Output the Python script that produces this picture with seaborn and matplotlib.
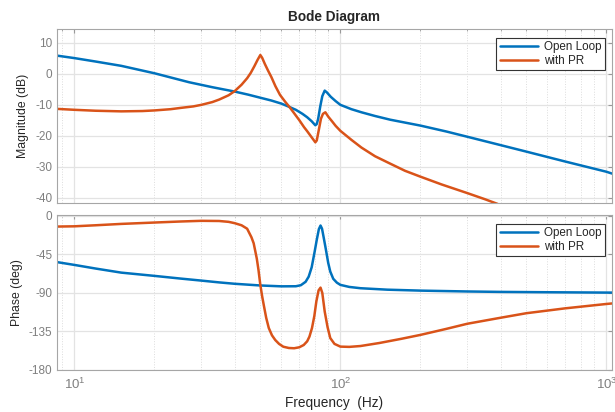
import numpy as np
import pandas as pd
import matplotlib
matplotlib.use("Agg")
import matplotlib.pyplot as plt
import seaborn as sns
from matplotlib.ticker import LogLocator, NullFormatter, FixedLocator

# --- values ---
mag_ol_f = [8.6, 10, 12, 15, 20, 27, 33, 40, 45, 50, 55, 60, 64, 68, 72, 75, 78, 80.5, 81.5,
            82.5, 84, 85.5, 87.3, 89, 92, 96, 100, 110, 120, 135, 154, 200, 250, 300, 400, 500,
            700, 1000, 1050]
mag_ol = [5.9, 5.1, 4.0, 2.6, 0.2, -2.7, -4.3, -5.7, -6.7, -7.7, -8.6, -9.6, -10.6, -11.6,
          -12.9, -14.0, -15.3, -16.6, -16.2, -14.5, -10.5, -7.2, -5.4, -6.0, -7.4, -8.8, -10.0,
          -11.4, -12.4, -13.6, -14.8, -16.7, -18.6, -20.3, -23.0, -25.1, -28.3, -31.6, -32.2]

mag_pr_f = [8.6, 10, 12, 15, 18, 20, 23, 25, 28, 30, 33, 35, 38, 40, 42.5, 44.6, 46, 47.5, 48.8,
            50, 50.8, 52, 53.5, 55, 57, 59.3, 62, 64.5, 67, 70, 73, 75, 78, 80.5, 81.5, 83, 84.5,
            86, 87.8, 90, 93, 96, 100, 110, 120, 135, 154, 175, 200, 240, 300, 350, 390]
mag_pr = [-11.3, -11.6, -11.9, -12.1, -12.0, -11.8, -11.4, -11.0, -10.5, -10.0, -9.1, -8.3,
          -6.9, -5.6, -3.5, -1.4, 0.3, 2.5, 4.5, 6.1, 5.2, 3.2, 1.0, -1.0, -4.0, -6.8, -9.0,
          -10.8, -12.7, -14.9, -17.2, -18.5, -20.5, -22.1, -21.5, -18.0, -14.5, -12.9, -12.4,
          -13.8, -15.3, -16.8, -18.4, -21.3, -23.8, -26.6, -29.0, -31.3, -33.2, -35.7, -38.5,
          -40.5, -42.0]

ph_ol_f = [8.6, 10, 12, 15, 20, 25, 30, 35, 40, 50, 60, 68, 71, 74, 76, 78, 80, 81.5, 83, 84.2,
           85.3, 86.5, 88, 90, 91.6, 94, 97, 100, 108, 119, 150, 200, 300, 400, 600, 1000, 1050]
ph_ol = [-54, -57.3, -61.5, -66.3, -70.1, -73.2, -75.6, -77.7, -79.3, -81.3, -82.3, -82.2, -81,
         -77, -71, -60, -42, -28, -15.5, -11.3, -15, -25, -37.6, -55, -65, -73.5, -78, -80.6,
         -83, -84.5, -86.2, -87.3, -88.3, -88.8, -89.2, -89.6, -89.6]

ph_pr_f = [8.6, 10, 12, 15, 20, 25, 30, 35, 38, 40, 42.5, 44.6, 46.3, 47.2, 47.9, 48.5, 49.2, 50,
           50.8, 51.5, 52.6, 53.8, 55.3, 56.9, 58.8, 61, 64, 67, 70, 72.8, 75, 76.5, 78.2, 79.8,
           81.2, 82.8, 84.2, 85.5, 87.3, 89.5, 91.6, 95, 100, 108, 119, 140, 170, 200, 250, 300,
           400, 500, 700, 1000, 1050]
ph_pr = [-12.5, -12.2, -11, -9.4, -7.8, -6.6, -5.8, -6.0, -7.0, -8.5, -11, -15, -25, -32, -41.7,
         -50, -63, -80.6, -94, -104, -119, -131, -139.5, -145, -149.5, -152.8, -154.3, -154.6,
         -153.5, -150.8, -146.5, -141, -131, -117, -100, -87, -83.8, -90, -111.7, -130, -142.7,
         -149.5, -152.7, -153, -152, -148.5, -143.5, -139, -132, -126, -119, -113.7, -108,
         -102.9, -102.3]

labels = ["Open Loop", "with PR"]
colors = ["#0072BD", "#D95319"]

mag_df = pd.concat([
    pd.DataFrame({"f": mag_ol_f, "v": mag_ol, "sys": labels[0]}),
    pd.DataFrame({"f": mag_pr_f, "v": mag_pr, "sys": labels[1]}),
])
ph_df = pd.concat([
    pd.DataFrame({"f": ph_ol_f, "v": ph_ol, "sys": labels[0]}),
    pd.DataFrame({"f": ph_pr_f, "v": ph_pr, "sys": labels[1]}),
])

sns.set_style("white")
plt.rcParams['font.family'] = ['Liberation Sans', 'DejaVu Sans']
plt.rcParams['axes.unicode_minus'] = False

fig = plt.figure(figsize=(6.15, 4.12), dpi=100)
W, H = 615, 412
ax_left, ax_right = 57, 612
ax_mag = fig.add_axes([ax_left / W, 1 - 203 / H, (ax_right - ax_left) / W, (203 - 29) / H])
ax_ph = fig.add_axes([ax_left / W, 1 - 370 / H, (ax_right - ax_left) / W, (370 - 215) / H])

tick_grey = "#7f7f7f"
for ax, df, yl in [(ax_mag, mag_df, "Magnitude (dB)"), (ax_ph, ph_df, "Phase (deg)")]:
    sns.lineplot(data=df, x="f", y="v", hue="sys", hue_order=labels, palette=colors,
                 estimator=None, sort=False, linewidth=1.8, ax=ax)
    ax.set_xscale("log")
    ax.set_xlim(8.6, 1050)
    ax.xaxis.set_minor_locator(LogLocator(base=10, subs=np.arange(2, 10), numticks=20))
    ax.xaxis.set_minor_formatter(NullFormatter())
    ax.grid(True, which="major", color="#e3e3e3", linewidth=0.9)
    ax.grid(True, which="minor", axis="x", color="#dcdcdc", linestyle=":", linewidth=0.7)
    ax.tick_params(which="both", direction="in", top=True, right=True, colors="#999999",
                   labelcolor=tick_grey, labelsize=8.5, length=3)
    ax.tick_params(which="minor", length=1.5)
    for s in ax.spines.values():
        s.set_color("#a6a6a6")
        s.set_linewidth(0.8)
    ax.set_ylabel(yl, fontsize=8.8, color="#262626", labelpad=4)
    ax.set_xlabel("")
    ax.legend(loc="upper right", bbox_to_anchor=(1 - 7 / 555, 1 - 8.5 / ax.bbox.height),
              borderaxespad=0, fontsize=8.4, frameon=True, fancybox=False, framealpha=1,
              edgecolor="#333333", handlelength=3.3, borderpad=0.3, labelspacing=0.15,
              handletextpad=0.5).get_frame().set_linewidth(0.8)

ax_mag.set_ylim(-41.7, 14.5)
ax_mag.yaxis.set_major_locator(FixedLocator([-40, -30, -20, -10, 0, 10]))
ax_mag.tick_params(labelbottom=False)
ax_mag.set_title("Bode Diagram", fontsize=9.8, fontweight="bold", pad=6)

ax_ph.set_ylim(-180, 1)
ax_ph.yaxis.set_major_locator(FixedLocator([-180, -135, -90, -45, 0]))
ax_ph.tick_params(axis="x", which="major", labelsize=9.5, pad=5)
ax_ph.set_xlabel("Frequency  (Hz)", fontsize=9.8, color="#262626", labelpad=3)

fig.savefig("out.png", dpi=100)
